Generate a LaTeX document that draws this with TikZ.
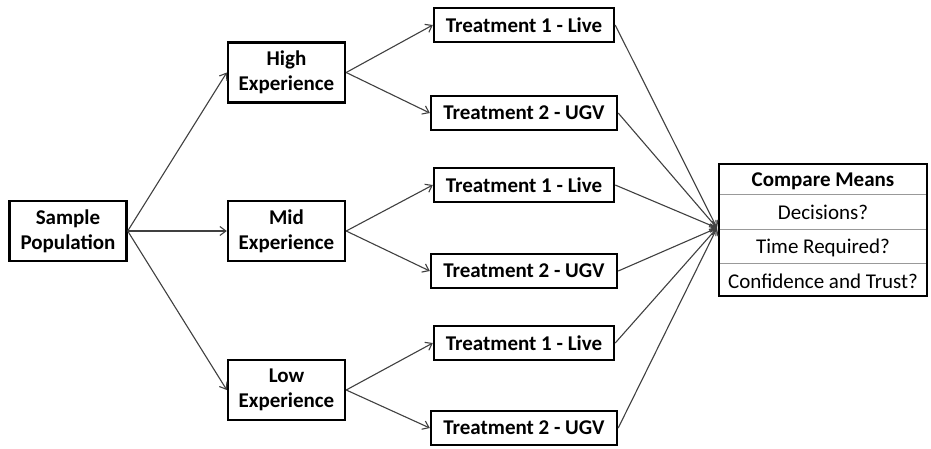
\documentclass[tikz,border=0pt]{standalone}
\usepackage{fontspec}
\setmainfont{Carlito}
\usetikzlibrary{arrows.meta}
\begin{document}
\begin{tikzpicture}[x=1pt,y=-1pt,
  txt/.style={font=\fontsize{21}{25}\selectfont},
  box/.style={draw=black, line width=2.4pt, fill=white, inner sep=0pt,
    align=center, txt, font=\fontsize{21}{25}\selectfont\bfseries},
  grp/.style={box, minimum width=117pt, minimum height=60pt},
  trt1/.style={box, minimum width=180pt, minimum height=34pt},
  trt2/.style={box, minimum width=186pt, minimum height=34pt},
  link/.style={draw=black!75, line width=1.1pt,
    -{Straight Barb[length=6pt,width=9pt,line width=1.1pt]}},
  row/.style={txt, anchor=base, inner sep=0pt},
  rowrule/.style={draw=black!40, line width=1pt}]

\useasboundingbox[fill=white] (0,0) rectangle (931,448);

% source population
\node[grp] (sample) at (68,231) {Sample\\Population};

% experience groups
\node[grp] (high) at (286.5,72.5) {High\\Experience};
\node[grp] (mid)  at (286.5,231)  {Mid\\Experience};
\node[grp] (low)  at (286.5,390)  {Low\\Experience};

% treatments per group
\node[trt1] (t1h) at (524,25)  {Treatment 1 - Live};
\node[trt2] (t2h) at (524,113) {Treatment 2 - UGV};
\node[trt1] (t1m) at (524,185) {Treatment 1 - Live};
\node[trt2] (t2m) at (524,271) {Treatment 2 - UGV};
\node[trt1] (t1l) at (524,343) {Treatment 1 - Live};
\node[trt2] (t2l) at (524,428) {Treatment 2 - UGV};

% comparison table
\node[draw=black, line width=2.2pt, fill=white, minimum width=208pt,
      minimum height=132pt, inner sep=0pt] (cmp) at (823,230) {};
\draw[rowrule] (720,194) -- (926,194);
\draw[rowrule] (720,229) -- (926,229);
\draw[rowrule] (720,263) -- (926,263);
\node[row, font=\fontsize{21}{25}\selectfont\bfseries] (hdr) at (823,186) {Compare Means};
\node[row] (r1) at (823,219) {Decisions?};
\node[row] (r2) at (823,253) {Time Required?};
\node[row] (r3) at (823,288) {Confidence and Trust?};
\coordinate (hub) at (717,228);

% population to groups
\draw[link] (sample.east) -- (high.west);
\draw[link] (sample.east) -- (mid.west);
\draw[link] (sample.east) -- (low.west);

% groups to treatments
\draw[link] (high.east) -- (t1h.west);
\draw[link] (high.east) -- (t2h.west);
\draw[link] (mid.east)  -- (t1m.west);
\draw[link] (mid.east)  -- (t2m.west);
\draw[link] (low.east)  -- (t1l.west);
\draw[link] (low.east)  -- (t2l.west);

% treatments to comparison
\foreach \t in {t1h,t2h,t1m,t2m,t1l,t2l}
  \draw[link] (\t.east) -- (hub);
\end{tikzpicture}
\end{document}
